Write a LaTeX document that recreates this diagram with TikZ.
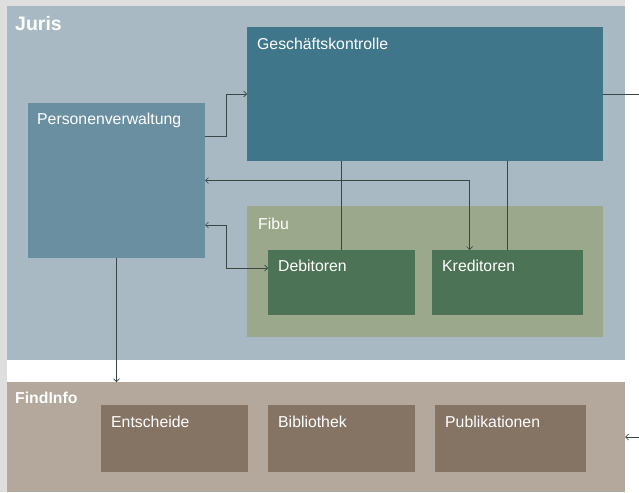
\documentclass[tikz,border=0pt]{standalone}
\usepackage{fontspec}
\setmainfont{Liberation Sans}
\usetikzlibrary{arrows.meta}

\definecolor{bggrey}{HTML}{DEDEDE}
\definecolor{jurisblue}{HTML}{A8B9C4}
\definecolor{gkteal}{HTML}{3F7689}
\definecolor{pvblue}{HTML}{6A8FA0}
\definecolor{fibugreen}{HTML}{9BA88C}
\definecolor{subgreen}{HTML}{4D7356}
\definecolor{findbrown}{HTML}{B4A79B}
\definecolor{subbrown}{HTML}{857464}
\definecolor{lineclr}{HTML}{3A4648}

\tikzset{
    box/.style = {draw=none, anchor=north west, inner sep=0pt, outer sep=0pt},
    lbl/.style = {anchor=north west, inner sep=0pt, text=white,
                  font=\fontsize{15.8}{17}\selectfont},
    biglbl/.style = {anchor=north west, inner sep=0pt, text=white,
                  font=\fontsize{15.8}{17}\selectfont\bfseries},
    conn/.style = {draw=lineclr, line width=0.7pt},
    tip/.tip = {Straight Barb[length=3pt, width=6pt]}
}

\begin{document}
\begin{tikzpicture}[x=1pt, y=-1pt]
        \useasboundingbox (0,0) rectangle (639,492);
        \fill[white] (0,0) rectangle (639,492);
        \fill[bggrey] (0,0) rectangle (7,492);
        \fill[bggrey] (0,0) rectangle (625,6);
        % main areas
        \node[box, fill=jurisblue, minimum width=618pt, minimum height=354pt] (juris) at (7,6) {};
        \node[box, fill=findbrown, minimum width=618pt, minimum height=110pt] (fi) at (7,382) {};
        \node[biglbl, font=\fontsize{19.5}{21}\selectfont\bfseries] at (15,16) {Juris};
        \node[biglbl] at (15,392) {FindInfo};
        % Juris
        \node[box, fill=gkteal, minimum width=356pt, minimum height=134pt,
              label={[lbl, xshift=10pt, yshift=-11pt]north west:Geschäftskontrolle}] (gk) at (247,27) {};
        \node[box, fill=pvblue, minimum width=177pt, minimum height=155pt,
              label={[lbl, xshift=9pt, yshift=-10pt]north west:Personenverwaltung}] (pv) at (28,103) {};
        \node[box, fill=fibugreen, minimum width=356pt, minimum height=131pt,
              label={[lbl, xshift=11pt, yshift=-12pt]north west:Fibu}] (fibu) at (247,206) {};
        \node[box, fill=subgreen, minimum width=147pt, minimum height=65pt,
              label={[lbl, xshift=10pt, yshift=-10pt]north west:Debitoren}] (db) at (268,250) {};
        \node[box, fill=subgreen, minimum width=151pt, minimum height=65pt,
              label={[lbl, xshift=10pt, yshift=-10pt]north west:Kreditoren}] (kr) at (432,250) {};
        % FindInfo
        \node[box, fill=subbrown, minimum width=147pt, minimum height=67pt,
              label={[lbl, xshift=10pt, yshift=-11pt]north west:Entscheide}] (ent) at (101,405) {};
        \node[box, fill=subbrown, minimum width=147pt, minimum height=67pt,
              label={[lbl, xshift=10pt, yshift=-11pt]north west:Bibliothek}] (bib) at (268,405) {};
        \node[box, fill=subbrown, minimum width=151pt, minimum height=67pt,
              label={[lbl, xshift=10pt, yshift=-11pt]north west:Publikationen}] (pub) at (435,405) {};
        % connectors
        \coordinate (gkout) at (639,94);
        \coordinate (fiin) at (639,437);
        \draw[conn, -tip] ([yshift=-33pt]pv.north east) -- ++(21pt,0) |- (gk.west);
        \draw[conn, tip-tip] (pv.east) -| ([xshift=-38pt]kr.north);
        \draw[conn, tip-tip] ([yshift=-122pt]pv.north east) -- ++(21pt,0) |- ([yshift=-18pt]db.north west);
        \draw[conn] (gk.south -| db.north) -- (db.north);
        \draw[conn] (gk.south -| kr.north) -- (kr.north);
        \draw[conn] (gk.east) -- (gkout);
        \draw[conn, -tip] (pv.south) -- (pv.south |- fi.north);
        \draw[conn, -tip] (fiin) -- (fi.east);
    \end{tikzpicture}
\end{document}
